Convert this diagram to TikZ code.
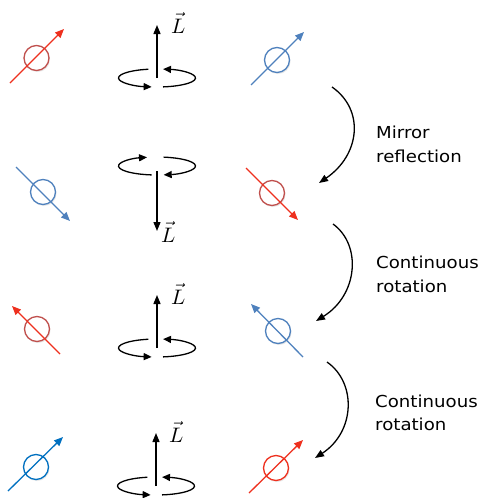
\documentclass[tikz,border=0pt]{standalone}
\usepackage{fontspec}
\newfontfamily\capfont[FakeStretch=1.1]{DejaVu Sans}
\usetikzlibrary{arrows.meta,shadows}
\definecolor{spinred}{RGB}{238,48,30}
\definecolor{ringred}{RGB}{192,80,77}
\definecolor{spinblue}{RGB}{79,129,189}
\definecolor{deepblue}{RGB}{0,112,192}
\newcommand{\bigL}{\scalebox{2.1}{$\vec{L}$}}

\begin{document}
\begin{tikzpicture}[x=1pt,y=-1pt,
    ring/.style={circle,draw,fill=white,line width=1.3pt,minimum size=25pt,inner sep=0pt,
      drop shadow={opacity=0.18,shadow xshift=1pt,shadow yshift=-1.5pt}},
    spin/.style={line width=1.3pt,-{Triangle[length=9pt,width=7.5pt]}},
    axis/.style={line width=1.3pt,-{Triangle[length=9pt,width=7pt]}},
    turn/.style={line width=1.3pt,-{Triangle[length=8pt,width=7pt]}},
    lab/.style={anchor=base west,inner sep=0pt},
    caption/.style={anchor=north west,inner sep=0pt,align=left,font=\capfont\fontsize{16.5}{23.4}\selectfont}]

    \useasboundingbox (0,0) rectangle (479,498);

    % spins, left column
    \node[ring,draw=ringred] (s1) at (36.5,58) {};
    \node[ring,draw=spinblue] (s3) at (43,192) {};
    \node[ring,draw=ringred] (s5) at (37,329) {};
    \node[ring,draw=deepblue] (s7) at (36,467) {};

    % spins, right column
    \node[ring,draw=spinblue] (s2) at (277,60) {};
    \node[ring,draw=ringred] (s4) at (272,193) {};
    \node[ring,draw=spinblue] (s6) at (278,331) {};
    \node[ring,draw=spinred] (s8) at (276,468) {};

    \coordinate (s1a) at (10,83);   \coordinate (s1b) at (64,29);
    \coordinate (s2a) at (251,85);  \coordinate (s2b) at (304,32);
    \coordinate (s3a) at (16,167);  \coordinate (s3b) at (70,221);
    \coordinate (s4a) at (246,168); \coordinate (s4b) at (298,220);
    \coordinate (s5a) at (60,354);  \coordinate (s5b) at (12,306);
    \coordinate (s6a) at (303,357); \coordinate (s6b) at (251,304);
    \coordinate (s7a) at (8,491);   \coordinate (s7b) at (63,437);
    \coordinate (s8a) at (249,493); \coordinate (s8b) at (303,440);

    \draw[spin,spinred] (s1a) -- (s1b);
    \draw[spin,spinblue] (s2a) -- (s2b);
    \draw[spin,spinblue] (s3a) -- (s3b);
    \draw[spin,spinred] (s4a) -- (s4b);
    \draw[spin,spinred] (s5a) -- (s5b);
    \draw[spin,spinblue] (s6a) -- (s6b);
    \draw[spin,deepblue] (s7a) -- (s7b);
    \draw[spin,spinred] (s8a) -- (s8b);

    % angular momentum, pointing up
    \foreach \cx/\cy/\n in {157/78/1,157/348/3,156/486/4} {
        \coordinate (c\n) at (\cx,\cy);
        \coordinate (t\n) at (\cx,\cy-53);
        \draw[axis] (c\n) -- (t\n);
        \draw[turn] ([shift={(-103:38.5 and 9)}]c\n) arc[start angle=-103,end angle=-262,x radius=38.5,y radius=9];
        \draw[turn] ([shift={(81:38.5 and 9)}]c\n) arc[start angle=81,end angle=-81,x radius=38.5,y radius=9];
    }

    % angular momentum, pointing down
    \coordinate (c2) at (157,166);
    \coordinate (b2) at (157,171);
    \coordinate (t2) at (157,231);
    \draw[axis] (b2) -- (t2);
    \draw[turn] ([shift={(-262:38.5 and 9)}]c2) arc[start angle=-262,end angle=-105,x radius=38.5,y radius=9];
    \draw[turn] ([shift={(-80:38.5 and 9)}]c2) arc[start angle=-80,end angle=80,x radius=38.5,y radius=9];

    \node[lab] (l1) at (171,33) {\bigL};
    \node[lab] (l2) at (161,242) {\bigL};
    \node[lab] (l3) at (171,304) {\bigL};
    \node[lab] (l4) at (169,442) {\bigL};

    % transformations
    \coordinate (m1a) at (332,87);  \coordinate (m1b) at (319,183);
    \coordinate (m2a) at (333,224); \coordinate (m2b) at (316,321);
    \coordinate (m3a) at (327,362); \coordinate (m3b) at (315,458);

    \draw[axis] (m1a) .. controls (365,110) and (360,155) .. (m1b);
    \draw[axis] (m2a) .. controls (362,245) and (358,295) .. (m2b);
    \draw[axis] (m3a) .. controls (357,383) and (355,432) .. (m3b);

    \node[caption] (k1) at (376,126) {Mirror\\reflection};
    \node[caption] (k2) at (376,256) {Continuous\\rotation};
    \node[caption] (k3) at (375,394.5) {Continuous\\rotation};
\end{tikzpicture}
\end{document}
